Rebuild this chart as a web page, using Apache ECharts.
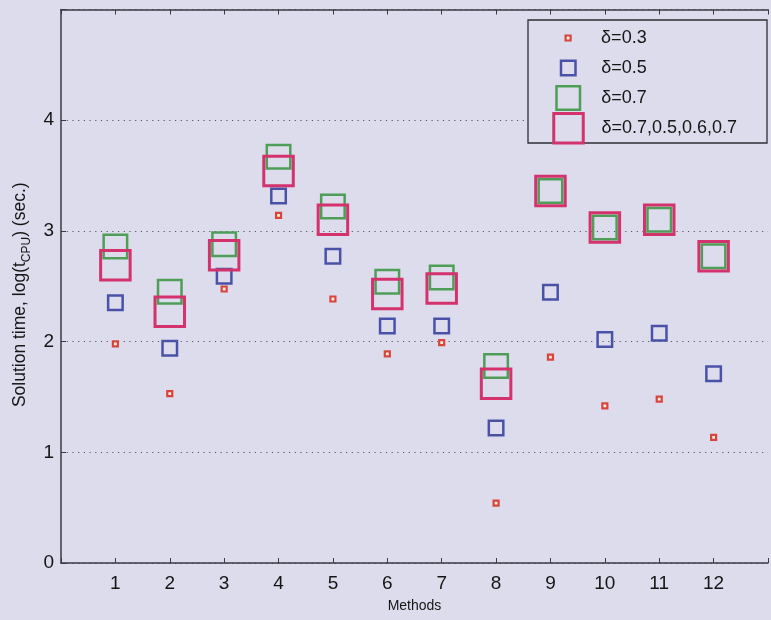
<!DOCTYPE html>
<html>
<head>
<meta charset="utf-8">
<script src="https://cdn.jsdelivr.net/npm/echarts@6/dist/echarts.min.js"></script>
<style>
  html, body { margin: 0; padding: 0; background: #dcdcec; }
  #chart { width: 771px; height: 620px; }
</style>
</head>
<body>
<div id="chart"></div>
<script>
// Solution time per method for several damping settings
const methods = [1, 2, 3, 4, 5, 6, 7, 8, 9, 10, 11, 12];
const delta03 = [1.98, 1.53, 2.475, 3.14, 2.385, 1.89, 1.99, 0.54, 1.86, 1.42, 1.48, 1.135];
const delta05 = [2.35, 1.94, 2.59, 3.316, 2.77, 2.14, 2.14, 1.22, 2.445, 2.02, 2.075, 1.71];
const delta07 = [2.86, 2.45, 2.88, 3.67, 3.22, 2.54, 2.58, 1.78, 3.36, 3.03, 3.10, 2.77];
const deltaMix = [2.69, 2.27, 2.78, 3.54, 3.10, 2.43, 2.48, 1.62, 3.36, 3.03, 3.10, 2.77];
const yTicks = [0, 1, 2, 3, 4];
const seriesNames = ['δ=0.3', 'δ=0.5', 'δ=0.7', 'δ=0.7,0.5,0.6,0.7'];

const FONT = 'Liberation Sans, Arial, sans-serif';
const BG = '#dcdcec';
const AXIS = '#3a3a44';

const colors = ['#d8453c', '#4a52a8', '#4f9e58', '#d4326c'];
const sizes = [5, 14.5, 23.5, 29.5];
const widths = [2.2, 2.5, 2.5, 3];
const fills = ['#f4ecdc', 'transparent', 'transparent', 'transparent'];
const valueSets = [delta03, delta05, delta07, deltaMix];

const series = valueSets.map((vals, i) => ({
  name: seriesNames[i],
  type: 'scatter',
  symbol: 'rect',
  symbolSize: sizes[i],
  z: 2 + i,
  itemStyle: { color: fills[i], borderColor: colors[i], borderWidth: widths[i], opacity: 1 },
  emphasis: { disabled: true },
  data: methods.map((m, k) => [m, vals[k]])
}));

// one legend block per entry so each icon keeps its own marker size;
// icons share a centre column and the texts share a start column
const rowCenters = [38, 68, 98, 127];
const iconCenterX = 567;
const textStartX = 600;
const legends = seriesNames.map((name, i) => ({
  data: [name],
  left: iconCenterX - sizes[i] / 2,
  top: rowCenters[i] - 15,
  padding: 0,
  itemWidth: sizes[i],
  itemHeight: sizes[i],
  selectedMode: false,
  z: 10,
  itemStyle: { color: fills[i], borderColor: colors[i], borderWidth: widths[i] },
  textStyle: {
    fontFamily: FONT, fontSize: 18, color: '#151515', lineHeight: 30,
    padding: [0, 0, 0, textStartX - (iconCenterX + sizes[i] / 2 + 5)]
  }
}));

const chart = echarts.init(document.getElementById('chart'));
chart.setOption({
  backgroundColor: BG,
  animation: false,
  grid: { left: 61, right: -6, top: 9.5, bottom: 57 },
  xAxis: [{
    type: 'value',
    min: 0, max: 13, interval: 1,
    name: 'Methods',
    nameLocation: 'middle',
    nameGap: 36,
    nameTextStyle: { fontFamily: FONT, fontSize: 14, color: '#151515' },
    axisLine: { show: true, lineStyle: { color: AXIS, width: 1.5 } },
    axisTick: { show: true, inside: true, length: 5, lineStyle: { color: AXIS } },
    axisLabel: {
      fontFamily: FONT, fontSize: 19, color: '#151515', margin: 11,
      formatter: v => (methods.indexOf(v) >= 0 ? String(v) : '')
    },
    splitLine: { show: false }
  }, {
    type: 'value',
    position: 'top',
    min: 0, max: 13, interval: 1,
    axisLine: { show: true, onZero: false, lineStyle: { color: AXIS, width: 1.5 } },
    axisTick: { show: true, inside: true, length: 5, lineStyle: { color: AXIS } },
    axisLabel: { show: false },
    splitLine: { show: false }
  }],
  yAxis: {
    type: 'value',
    min: 0, max: 5, interval: 1,
    name: '{a|Solution time, log(t}{s|CPU}{a|) (sec.)}',
    nameLocation: 'middle',
    nameGap: 27,
    nameTextStyle: {
      padding: [0, 17, 0, 0],
      rich: {
        a: { fontFamily: FONT, fontSize: 17.5, color: '#151515', lineHeight: 24, verticalAlign: 'middle' },
        s: { fontFamily: FONT, fontSize: 12, color: '#151515', lineHeight: 24, verticalAlign: 'bottom' }
      }
    },
    axisLine: { show: true, lineStyle: { color: AXIS, width: 1.5 } },
    axisTick: { show: true, inside: true, length: 5, lineStyle: { color: AXIS } },
    axisLabel: {
      fontFamily: FONT, fontSize: 19, color: '#151515', margin: 7,
      formatter: v => (yTicks.indexOf(v) >= 0 ? String(v) : '')
    },
    splitLine: { show: true, lineStyle: { color: '#55555f', width: 1, type: [1.2, 4.5] } }
  },
  legend: legends,
  graphic: [{
    type: 'rect',
    z: 5,
    shape: { x: 528, y: 20, width: 239, height: 123 },
    style: { fill: BG, stroke: '#2e2e36', lineWidth: 1.3 }
  }],
  series: series
});
</script>
</body>
</html>
